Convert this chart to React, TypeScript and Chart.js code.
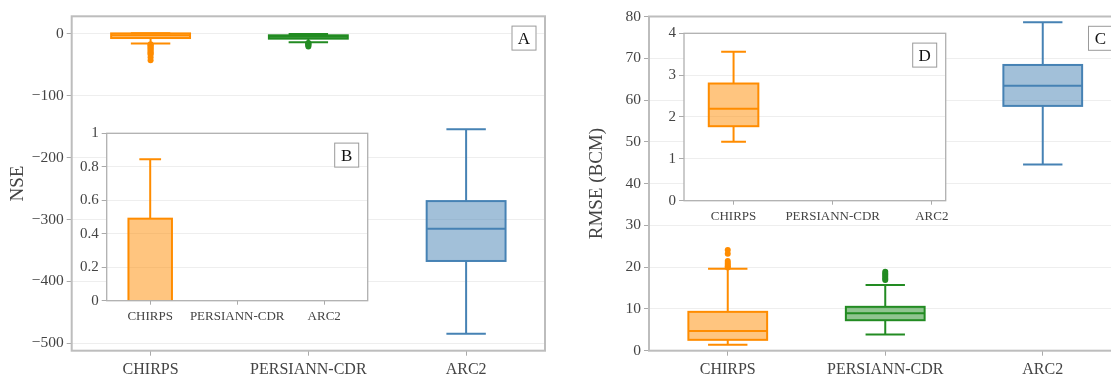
import React, { useEffect, useRef } from 'react';
import { Chart, registerables } from 'chart.js';

Chart.register(...registerables);

// ---------- data ----------
const CATEGORIES = ['CHIRPS', 'PERSIANN-CDR', 'ARC2'];
const COLORS = ['#ff8c00', '#228b22', '#4682b4'];
const FILLS = ['rgba(255,140,0,0.5)', 'rgba(34,139,34,0.5)', 'rgba(70,130,180,0.5)'];

// box stats: [lower whisker, Q1, median, Q3, upper whisker]
const NSE_CHIRPS = [-16, -7, -2.5, 0.49, 0.845];
const NSE_PERSIANN = [-13.9, -8, -4.8, -2.6, -0.6];
const NSE_ARC2 = [-484.6, -367, -315, -270.3, -154.4];
const NSE_CHIRPS_OUTLIERS = [-17, -18.5, -20, -22, -24, -26, -28, -30, -32, -33.5, -38, -43];
const NSE_PERSIANN_OUTLIERS = [-15, -16, -17, -18.5, -20.5];
const NSE_TICKS = [0, -100, -200, -300, -400, -500];
const NSE_INSET_TICKS = [0, 0.2, 0.4, 0.6, 0.8, 1];

const RMSE_CHIRPS = [1.4, 2.6, 4.7, 9.3, 19.6];
const RMSE_PERSIANN = [3.9, 7.3, 8.95, 10.5, 15.7];
const RMSE_ARC2 = [44.6, 58.6, 63.4, 68.4, 78.6];
const RMSE_CHIRPS_OUTLIERS = [19.9, 20.2, 20.6, 21.0, 21.5, 23.2, 24.1];
const RMSE_PERSIANN_OUTLIERS = [16.9, 17.3, 17.7, 18.1, 18.5, 18.9];
const RMSE_TICKS = [0, 10, 20, 30, 40, 50, 60, 70, 80];
const RMSE_INSET_CHIRPS = [1.41, 1.78, 2.2, 2.8, 3.56];
const RMSE_INSET_TICKS = [0, 1, 2, 3, 4];

const FONT = "'Liberation Serif', 'Times New Roman', serif";

const fmtNum = (v: number) => (v < 0 ? '\u2212' + Math.abs(v) : String(v));

const panelPlugin = {
  id: 'panel',
  beforeDraw(chart: any, _a: any, opts: any) {
    const { ctx, chartArea: a } = chart;
    ctx.save();
    ctx.fillStyle = '#ffffff';
    ctx.fillRect(a.left, a.top, a.right - a.left, a.bottom - a.top);
    ctx.restore();
  },
  beforeDatasetsDraw(chart: any, _a: any, opts: any) {
    const { ctx, chartArea: a, scales } = chart;
    const x = scales.x, y = scales.y;
    ctx.save();
    ctx.beginPath();
    ctx.rect(a.left, a.top, a.right - a.left, a.bottom - a.top);
    ctx.clip();
    const unit = x.getPixelForValue(1) - x.getPixelForValue(0);
    for (const bx of opts.boxes) {
      const [lo, q1, med, q3, hi] = bx.stats;
      const cx = x.getPixelForValue(bx.idx);
      const half = unit * 0.25;
      const cap = unit * 0.125;
      const yLo = y.getPixelForValue(lo);
      const yQ1 = y.getPixelForValue(q1);
      const yMed = y.getPixelForValue(med);
      const yQ3 = y.getPixelForValue(q3);
      const yHi = y.getPixelForValue(hi);
      ctx.lineWidth = 2;
      ctx.strokeStyle = COLORS[bx.idx];
      ctx.fillStyle = FILLS[bx.idx];
      ctx.beginPath();
      ctx.moveTo(cx, yQ3); ctx.lineTo(cx, yHi);
      ctx.moveTo(cx - cap, yHi); ctx.lineTo(cx + cap, yHi);
      ctx.moveTo(cx, yQ1); ctx.lineTo(cx, yLo);
      ctx.moveTo(cx - cap, yLo); ctx.lineTo(cx + cap, yLo);
      ctx.stroke();
      ctx.fillRect(cx - half, yQ3, half * 2, yQ1 - yQ3);
      ctx.strokeRect(cx - half, yQ3, half * 2, yQ1 - yQ3);
      ctx.beginPath();
      ctx.moveTo(cx - half, yMed); ctx.lineTo(cx + half, yMed);
      ctx.stroke();
    }
    ctx.restore();
  },
  afterDraw(chart: any, _a: any, opts: any) {
    const { ctx, chartArea: a } = chart;
    ctx.save();
    ctx.strokeStyle = opts.frameColor;
    ctx.lineWidth = opts.frameWidth;
    ctx.strokeRect(a.left, a.top, a.right - a.left, a.bottom - a.top);
    // panel letter
    const s = 25;
    const bx = a.right - 8.5 - s;
    const by = a.top + 9.3;
    ctx.fillStyle = '#ffffff';
    ctx.fillRect(bx, by, s, s);
    ctx.strokeStyle = '#9a9a9a';
    ctx.lineWidth = 1;
    ctx.strokeRect(bx + 0.5, by + 0.5, s - 1, s - 1);
    ctx.fillStyle = '#111';
    ctx.font = `17px ${FONT}`;
    ctx.textAlign = 'center';
    ctx.textBaseline = 'middle';
    ctx.fillText(opts.letter, bx + s / 2, by + s / 2 + 1);
    ctx.restore();
  },
};

type PanelCfg = {
  canvasW: number;
  area: { l: number; t: number; r: number; b: number };
  yW: number;
  xH: number;
  xMin: number;
  xMax: number;
  yMin: number;
  yMax: number;
  yTicks: number[];
  yFmt: (v: number) => string;
  boxes: { idx: number; stats: number[] }[];
  outliers: { idx: number; values: number[] }[];
  title?: string;
  titlePad?: number;
  letter: string;
  inset: boolean;
};

function makeConfig(c: PanelCfg): any {
  const H = 376;
  const xFont = c.inset ? 13 : 16;
  const yFont = c.inset ? 15 : 15.5;
  return {
    type: 'scatter',
    data: {
      datasets: c.outliers.map((o) => ({
        data: o.values.map((v) => ({ x: o.idx, y: v })),
        backgroundColor: COLORS[o.idx],
        borderWidth: 0,
        pointRadius: 3,
        pointHoverRadius: 3,
      })),
    },
    plugins: [panelPlugin],
    options: {
      responsive: false,
      animation: false,
      devicePixelRatio: 1,
      events: [],
      layout: {
        padding: {
          left: c.area.l - c.yW,
          top: c.area.t,
          right: c.canvasW - c.area.r,
          bottom: H - c.area.b - c.xH,
        },
      },
      plugins: {
        legend: { display: false },
        tooltip: { enabled: false },
        panel: {
          boxes: c.boxes,
          letter: c.letter,
          frameColor: c.inset ? '#b0b0b0' : '#bdbdbd',
          frameWidth: c.inset ? 1.3 : 2,
        },
      },
      scales: {
        x: {
          type: 'linear',
          min: c.xMin,
          max: c.xMax,
          afterBuildTicks: (s: any) => {
            s.ticks = CATEGORIES.map((_, i) => ({ value: i }));
          },
          afterFit: (s: any) => {
            s.height = c.xH;
            s.paddingLeft = 0;
            s.paddingRight = 0;
            s.paddingTop = 0;
            s.paddingBottom = 0;
          },
          grid: {
            drawOnChartArea: false,
            drawTicks: true,
            tickLength: c.inset ? 4 : 5,
            tickColor: '#aaaaaa',
            tickWidth: 1,
          },
          border: { display: false },
          ticks: {
            callback: (v: number) => CATEGORIES[v],
            font: { family: FONT, size: xFont },
            color: '#444',
            padding: c.inset ? 4 : 4.5,
            maxRotation: 0,
            autoSkip: false,
          },
        },
        y: {
          type: 'linear',
          min: c.yMin,
          max: c.yMax,
          afterBuildTicks: (s: any) => {
            s.ticks = c.yTicks.map((v) => ({ value: v }));
          },
          afterFit: (s: any) => {
            s.width = c.yW;
            s.paddingLeft = 0;
            s.paddingRight = 0;
            s.paddingTop = 0;
            s.paddingBottom = 0;
          },
          grid: {
            color: '#eeeeee',
            lineWidth: 1,
            drawTicks: true,
            tickLength: 5,
            tickColor: '#aaaaaa',
          },
          border: { display: false },
          ticks: {
            callback: (v: number) => c.yFmt(v),
            font: { family: FONT, size: yFont },
            color: '#444',
            padding: 3,
            autoSkip: false,
          },
          title: c.title
            ? {
                display: true,
                text: c.title,
                font: { family: FONT, size: 19 },
                color: '#444',
                padding: { top: c.titlePad ?? 4, bottom: 0 },
              }
            : { display: false },
        },
      },
    },
  };
}

const PANELS: { key: string; cfg: PanelCfg }[] = [
  {
    key: 'A',
    cfg: {
      canvasW: 1111,
      area: { l: 71.7, t: 16.3, r: 545, b: 350.7 },
      yW: 71.7,
      xH: 25,
      xMin: -0.5,
      xMax: 2.5,
      yMin: -511.9,
      yMax: 28.1,
      yTicks: NSE_TICKS,
      yFmt: fmtNum,
      boxes: [
        { idx: 0, stats: NSE_CHIRPS },
        { idx: 1, stats: NSE_PERSIANN },
        { idx: 2, stats: NSE_ARC2 },
      ],
      outliers: [
        { idx: 0, values: NSE_CHIRPS_OUTLIERS },
        { idx: 1, values: NSE_PERSIANN_OUTLIERS },
      ],
      title: 'NSE',
      titlePad: 6.6,
      letter: 'A',
      inset: false,
    },
  },
  {
    key: 'C',
    cfg: {
      canvasW: 1130,
      area: { l: 649, t: 16.5, r: 1121.5, b: 350.7 },
      yW: 70,
      xH: 25,
      xMin: -0.5,
      xMax: 2.5,
      yMin: 0,
      yMax: 80,
      yTicks: RMSE_TICKS,
      yFmt: fmtNum,
      boxes: [
        { idx: 0, stats: RMSE_CHIRPS },
        { idx: 1, stats: RMSE_PERSIANN },
        { idx: 2, stats: RMSE_ARC2 },
      ],
      outliers: [
        { idx: 0, values: RMSE_CHIRPS_OUTLIERS },
        { idx: 1, values: RMSE_PERSIANN_OUTLIERS },
      ],
      title: 'RMSE (BCM)',
      titlePad: 6.6,
      letter: 'C',
      inset: false,
    },
  },
  {
    key: 'B',
    cfg: {
      canvasW: 1111,
      area: { l: 106.7, t: 133.3, r: 367.7, b: 300.7 },
      yW: 40,
      xH: 25,
      xMin: -0.5,
      xMax: 2.5,
      yMin: 0,
      yMax: 1,
      yTicks: NSE_INSET_TICKS,
      yFmt: (v: number) => (v === 0 || v === 1 ? String(v) : v.toFixed(1)),
      boxes: [
        { idx: 0, stats: NSE_CHIRPS },
        { idx: 1, stats: NSE_PERSIANN },
        { idx: 2, stats: NSE_ARC2 },
      ],
      outliers: [],
      letter: 'B',
      inset: true,
    },
  },
  {
    key: 'D',
    cfg: {
      canvasW: 1111,
      area: { l: 684, t: 33.3, r: 945.7, b: 200.7 },
      yW: 40,
      xH: 25,
      xMin: -0.5,
      xMax: 2.14,
      yMin: 0,
      yMax: 4,
      yTicks: RMSE_INSET_TICKS,
      yFmt: fmtNum,
      boxes: [{ idx: 0, stats: RMSE_INSET_CHIRPS }],
      outliers: [],
      letter: 'D',
      inset: true,
    },
  },
];

function Panel({ cfg }: { cfg: PanelCfg }) {
  const ref = useRef<HTMLCanvasElement | null>(null);
  useEffect(() => {
    if (!ref.current) return;
    const chart = new Chart(ref.current, makeConfig(cfg));
    return () => chart.destroy();
  }, [cfg]);
  return (
    <canvas
      ref={ref}
      width={cfg.canvasW}
      height={376}
      style={{ position: 'absolute', left: 0, top: 0, width: cfg.canvasW, height: 376 }}
    />
  );
}

export default function App() {
  return (
    <div
      style={{
        position: 'absolute',
        left: 0,
        top: 0,
        width: 1111,
        height: 376,
        overflow: 'hidden',
        background: '#ffffff',
      }}
    >
      {PANELS.map((p) => (
        <Panel key={p.key} cfg={p.cfg} />
      ))}
    </div>
  );
}
